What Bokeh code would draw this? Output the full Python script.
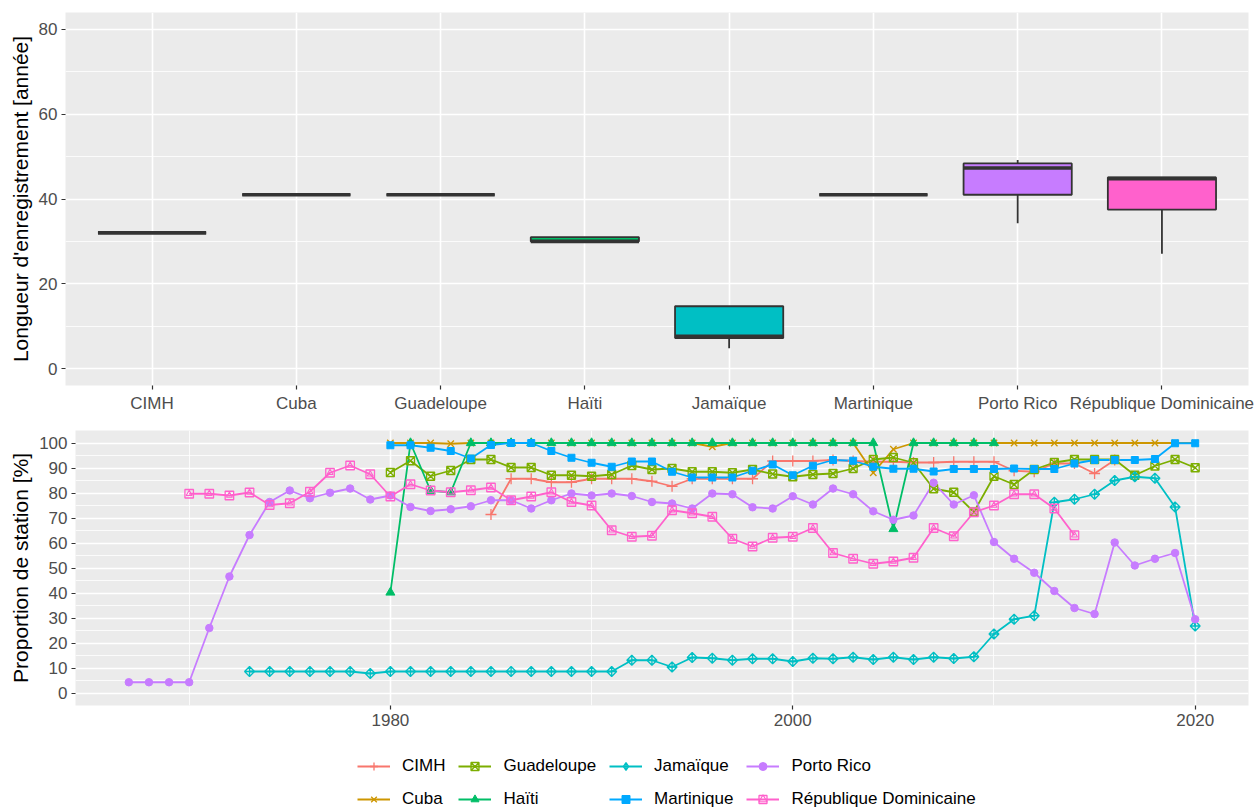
import math
from bokeh.plotting import figure
from bokeh.models import (Range1d, FixedTicker, SingleIntervalTicker, Legend,
                          LegendItem, ColumnDataSource)
from bokeh.layouts import column
from bokeh.embed import file_html
from bokeh.resources import INLINE

FONT = "Liberation Sans"

# ---------------- data ----------------
countries = ["CIMH", "Cuba", "Guadeloupe", "Haïti", "Jamaïque", "Martinique",
             "Porto Rico", "République Dominicaine"]
colors = ["#F8766D", "#CD9600", "#7CAE00", "#00BE67", "#00BFC4", "#00A9FF",
          "#C77CFF", "#FF61CC"]

# record length box plots (years)
box_min = [32, 41, 41, 30, 4.8, 41, 34.3, 27.1]
box_q1 = [32, 41, 41, 30, 7.2, 41, 41.0, 37.5]
box_med = [32, 41, 41, 30, 7.6, 41, 47.3, 44.8]
box_q3 = [32, 41, 41, 31, 14.7, 41, 48.4, 45.1]
box_max = [32, 41, 41, 31, 14.7, 41, 49.2, 45.1]

# proportion of stations (%) per year
cimh_years = list(range(1985, 2017))
cimh_vals = [71.4, 85.7, 85.7, 84.3, 84.3, 85.7, 85.7, 85.7, 84.7, 82.7, 85.7,
             85.7, 85.7, 85.7, 92.8, 92.8, 92.8, 93.2, 92.8, 92.5, 92.5, 92.2,
             92.2, 92.5, 92.5, 92.5, 88.9, 88.5, 91.8, 91.8, 87.8, 93.2]

cuba_years = list(range(1980, 2021))
cuba_vals = [100, 100, 100, 99.7, 100, 100, 100, 100, 100, 100, 100, 100, 100,
             100, 100, 100, 98.5, 100, 100, 100, 100, 100, 100, 100, 88.1, 97.5,
             100, 100, 100, 100, 100, 100, 100, 100, 100, 100, 100, 100, 100,
             100, 100]

guad_years = list(range(1980, 2021))
guad_vals = [88.2, 92.9, 86.7, 89.0, 93.4, 93.4, 90.2, 90.2, 87.1, 87.1, 86.7,
             87.4, 91.0, 89.4, 89.8, 88.5, 88.5, 88.1, 89.4, 87.6, 86.5, 87.4,
             87.8, 89.8, 93.4, 94.2, 92.1, 81.7, 80.3, 72.4, 86.7, 83.4, 89.4,
             92.2, 93.4, 93.4, 93.4, 87.1, 90.8, 93.4, 90.1]

haiti_years = list(range(1980, 2011))
haiti_vals = [40.2, 100, 80.9, 80.3, 100, 100, 100, 100, 100, 100, 100, 100,
              100, 100, 100, 100, 100, 100, 100, 100, 100, 100, 100, 100, 100,
              65.6, 100, 100, 100, 100, 100]

jam_years = list(range(1973, 2021))
jam_vals = [8.6, 8.6, 8.6, 8.6, 8.6, 8.6, 7.8, 8.6, 8.6, 8.6, 8.6, 8.6, 8.6,
            8.6, 8.6, 8.6, 8.6, 8.6, 8.6, 13.1, 13.1, 10.4, 14.2, 13.9, 13.1,
            13.7, 13.7, 12.6, 13.9, 13.7, 14.3, 13.4, 14.3, 13.4, 14.3, 13.8,
            14.5, 23.6, 29.5, 30.9, 76.3, 77.5, 79.5, 85.0, 86.5, 85.9, 74.4,
            26.8]

mart_years = list(range(1980, 2021))
mart_vals = [99.1, 99.1, 98.1, 96.8, 93.8, 99.2, 100, 100, 96.8, 94.1, 92.1,
             90.5, 92.6, 92.6, 88.5, 86.2, 86.2, 86.2, 88.9, 91.4, 87.1, 90.9,
             93.2, 92.9, 90.5, 89.7, 89.7, 88.6, 89.6, 89.6, 89.6, 89.8, 89.6,
             89.6, 91.8, 93.2, 93.2, 93.2, 93.6, 99.9, 99.9]

pr_years = list(range(1967, 2021))
pr_vals = [4.3, 4.3, 4.3, 4.3, 26.0, 46.6, 63.2, 76.4, 81.0, 77.9, 80.1, 81.8,
           77.4, 79.0, 74.4, 72.8, 73.5, 74.7, 77.1, 77.1, 73.8, 77.1, 79.8,
           79.0, 79.8, 78.8, 76.4, 75.8, 73.8, 79.8, 79.5, 74.3, 73.8, 78.7,
           75.4, 81.8, 79.5, 72.7, 69.3, 71.0, 84.1, 75.4, 79.1, 60.4, 53.7,
           48.1, 40.8, 34.0, 31.6, 60.2, 51.0, 53.7, 56.0, 29.5]

rd_years = list(range(1970, 2015))
rd_vals = [79.7, 79.7, 79.0, 80.2, 75.2, 75.9, 80.5, 88.1, 91.0, 87.5, 78.6,
           83.5, 81.0, 80.3, 81.1, 82.2, 77.1, 78.6, 80.3, 76.4, 75.0, 65.1,
           62.5, 62.9, 73.1, 71.9, 70.5, 61.7, 58.6, 62.1, 62.5, 66.0, 56.0,
           53.7, 51.7, 52.6, 54.1, 66.0, 62.7, 72.3, 75.0, 79.5, 79.5, 73.8,
           63.1]

series_years = [cimh_years, cuba_years, guad_years, haiti_years, jam_years,
                mart_years, pr_years, rd_years]
series_vals = [cimh_vals, cuba_vals, guad_vals, haiti_vals, jam_vals,
               mart_vals, pr_vals, rd_vals]

# ---------------- styling helpers ----------------
PANEL = "#EBEBEB"


def style(p):
    p.background_fill_color = PANEL
    p.border_fill_color = "white"
    p.outline_line_color = None
    for ax in p.axis:
        ax.axis_line_color = None
        ax.major_tick_line_color = "#333333"
        ax.major_tick_line_width = 1.2
        ax.major_tick_in = 0
        ax.major_tick_out = 4
        ax.minor_tick_line_color = None
        ax.major_label_text_font = FONT
        ax.major_label_text_font_size = "17px"
        ax.major_label_text_color = "#4D4D4D"
        ax.major_label_standoff = 4
        ax.axis_label_text_font = FONT
        ax.axis_label_text_font_size = "21px"
        ax.axis_label_text_font_style = "normal"
        ax.axis_label_text_color = "black"
        ax.axis_label_standoff = 4
    for g in p.grid:
        g.grid_line_color = "white"
        g.grid_line_width = 1.6
        g.minor_grid_line_color = "white"
        g.minor_grid_line_width = 0.8


# ---------------- top: box plots ----------------
p1 = figure(width=1255, height=418, output_backend="svg",
            toolbar_location=None, x_range=Range1d(0.4, 8.6),
            y_range=Range1d(-4, 84), min_border_left=65, min_border_right=7,
            min_border_top=12, min_border_bottom=33)
p1.frame_align = False
style(p1)
xpos = list(range(1, len(countries) + 1))
bsrc = ColumnDataSource(dict(x=xpos, lo=box_min, q1=box_q1, med=box_med,
                             q3=box_q3, hi=box_max, color=colors))
p1.segment(x0="x", y0="q3", x1="x", y1="hi", source=bsrc,
           line_color="#333333", line_width=1.8)
p1.segment(x0="x", y0="lo", x1="x", y1="q1", source=bsrc,
           line_color="#333333", line_width=1.8)
p1.vbar(x="x", width=0.75, bottom="q1", top="q3", source=bsrc,
        fill_color="color", line_color="#333333", line_width=1.8)
p1.vbar(x="x", width=0.75, bottom="med", top="med", source=bsrc,
        fill_color=None, line_color="#333333", line_width=3.6)
p1.xaxis.ticker = FixedTicker(ticks=xpos)
p1.xaxis.major_label_overrides = {i: c for i, c in zip(xpos, countries)}
p1.yaxis.ticker = SingleIntervalTicker(interval=20, num_minor_ticks=2)
p1.yaxis.axis_label = "Longueur d'enregistrement [année]"

# ---------------- bottom: lines ----------------
p2 = figure(width=1255, height=315, output_backend="svg",
            toolbar_location=None, x_range=Range1d(1964.35, 2022.65),
            y_range=Range1d(-5, 105), min_border_left=75, min_border_right=7,
            min_border_top=12, min_border_bottom=28)
p2.frame_align = False
style(p2)
p2.xaxis.ticker = SingleIntervalTicker(interval=20, num_minor_ticks=2)
p2.yaxis.ticker = SingleIntervalTicker(interval=10, num_minor_ticks=2)
p2.yaxis.axis_label = "Proportion de station [%]"

sources = [ColumnDataSource(dict(x=yr, y=v))
           for yr, v in zip(series_years, series_vals)]

marker_specs = [
    [dict(marker="cross", size=11, fill_color=None, line_width=1.3)],
    [dict(marker="x", size=9, fill_color=None, line_width=1.3)],
    [dict(marker="square_x", size=8, fill_color=None, line_width=1.3)],
    [dict(marker="triangle", size=9, fill="same", line_width=1)],
    [dict(marker="square_x", size=7, angle=math.pi / 4, fill_color=None,
          line_width=1.3)],
    [dict(marker="square", size=7, fill="same", line_width=1)],
    [dict(marker="circle", size=7.5, fill="same", line_width=1)],
    [dict(marker="square", size=8.5, fill_color=None, line_width=1.3),
     dict(marker="triangle", size=6, fill_color=None, line_width=1.1)],
]
# the legend does not rotate markers: a diamond-cross stands in for Jamaïque
legend_marker_specs = list(marker_specs)
legend_marker_specs[4] = [dict(marker="diamond_cross", size=12,
                               fill_color=None, line_width=1.3)]


def draw_series(p, specs_list):
    line_rs = []
    for src, col in zip(sources, colors):
        line_rs.append(p.line("x", "y", source=src, line_color=col,
                              line_width=1.8))
    point_rs = []
    for src, col, specs in zip(sources, colors, specs_list):
        rs = []
        for sp in specs:
            sp = dict(sp)
            if sp.pop("fill", None) == "same":
                sp["fill_color"] = col
            rs.append(p.scatter("x", "y", source=src, line_color=col, **sp))
        point_rs.append(rs)
    return line_rs, point_rs


draw_series(p2, marker_specs)

# ---------------- legend (own strip below) ----------------
p3 = figure(width=1255, height=76, output_backend="svg",
            toolbar_location=None, x_range=Range1d(0, 1),
            y_range=Range1d(0, 1), x_axis_type=None, y_axis_type=None,
            min_border_left=0, min_border_right=0, min_border_top=0,
            min_border_bottom=0)
p3.frame_align = False
p3.outline_line_color = None
p3.background_fill_color = "white"
p3.border_fill_color = "white"
p3.grid.visible = False
lr3, pr3 = draw_series(p3, legend_marker_specs)

items = [LegendItem(label=name, renderers=[lr] + prs)
         for name, lr, prs in zip(countries, lr3, pr3)]
legend = Legend(items=items, location=(357, 0), orientation="vertical",
                nrows=2, glyph_width=33, glyph_height=20, label_height=20,
                label_standoff=12, spacing=13, padding=0, margin=0,
                border_line_color=None, background_fill_alpha=0,
                label_text_font=FONT, label_text_font_size="17px",
                label_text_color="black")
p3.add_layout(legend)

layout = column(p1, p2, p3)
open("out.html", "w").write(file_html(layout, INLINE))
